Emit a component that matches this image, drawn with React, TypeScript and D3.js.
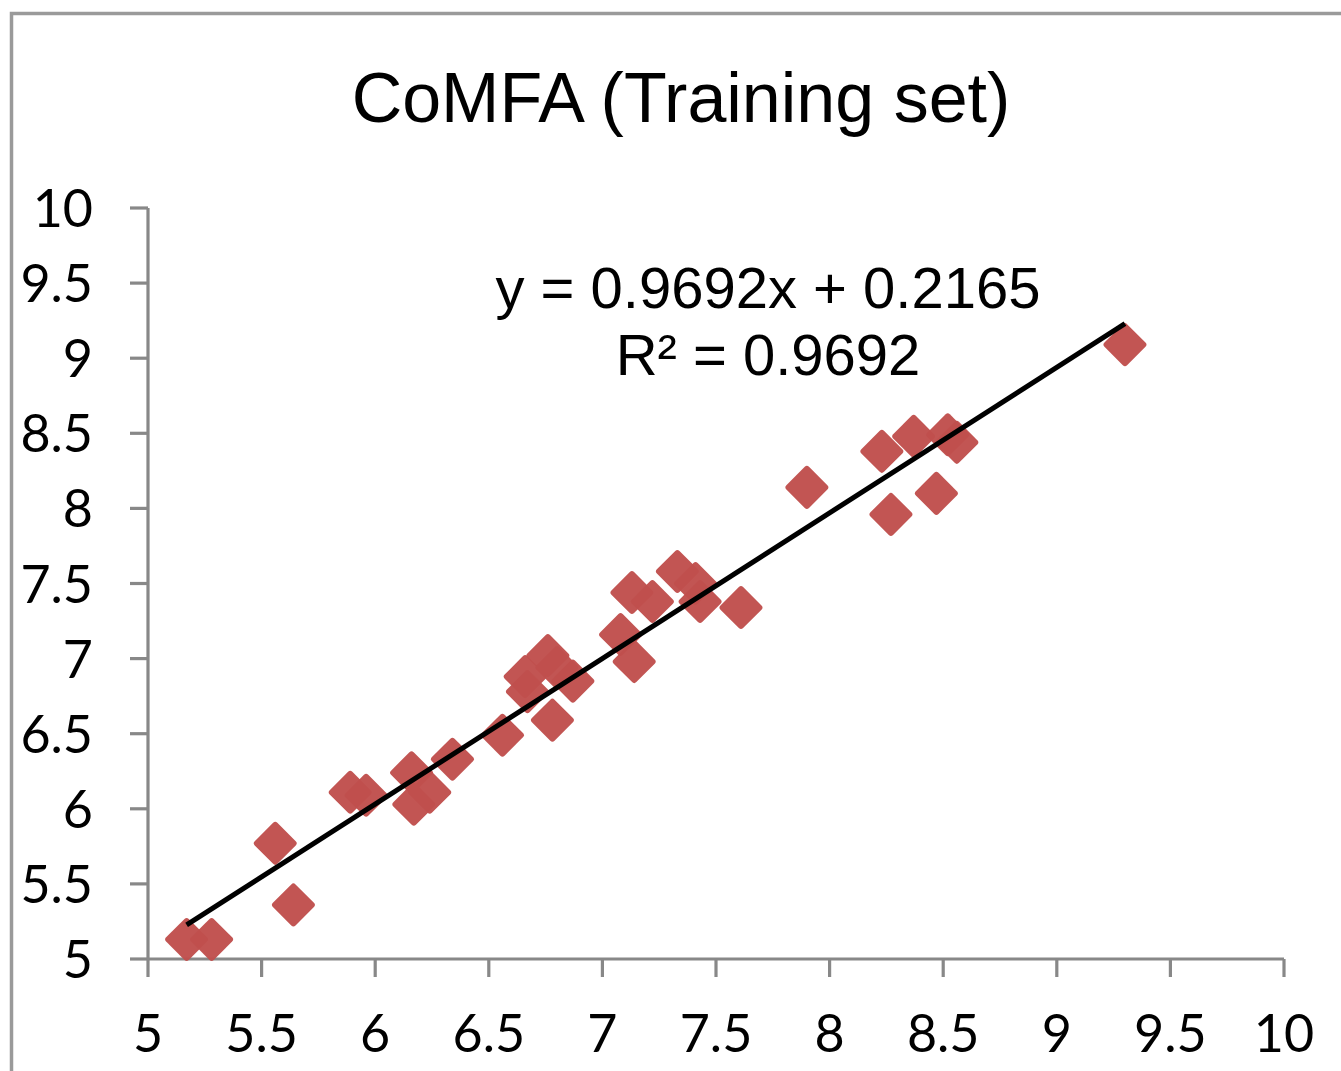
import React from "react";
import * as d3 from "d3";

const xValues = [5.17, 5.28, 5.56, 5.64, 5.89, 5.96, 6.16, 6.17, 6.24, 6.34, 6.56, 6.66, 6.67, 6.76, 6.80, 6.87, 6.78, 7.08, 7.14, 7.13, 7.22, 7.33, 7.41, 7.43, 7.61, 7.90, 8.23, 8.37, 8.52, 8.56, 8.27, 8.47, 9.30];
const yValues = [5.13, 5.13, 5.77, 5.36, 6.11, 6.09, 6.24, 6.03, 6.11, 6.33, 6.49, 6.88, 6.78, 7.02, 6.94, 6.85, 6.59, 7.16, 6.98, 7.44, 7.38, 7.58, 7.50, 7.38, 7.34, 8.14, 8.38, 8.48, 8.49, 8.44, 7.96, 8.10, 9.09];
const ticks = [5, 5.5, 6, 6.5, 7, 7.5, 8, 8.5, 9, 9.5, 10];
const slope = 0.9692;
const intercept = 0.2165;
const title = "CoMFA (Training set)";
const eqLine1 = "y = 0.9692x + 0.2165";
const eqLine2 = "R² = 0.9692";

export default function App() {
  const W = 1341, H = 1071;
  const x = d3.scaleLinear().domain([5, 10]).range([148, 1284]);
  const y = d3.scaleLinear().domain([5, 10]).range([959, 208]);
  const axisColor = "#888888";
  const red = "#C0504D";
  const xMin = d3.min(xValues) as number;
  const xMax = d3.max(xValues) as number;
  const line = d3.line<number>().x(v => x(v)).y(v => y(slope * v + intercept));
  const side = 32;
  const tickFont = "Lato, 'Open Sans', sans-serif";
  return (
    <svg width={W} height={H} style={{ position: "absolute", left: 0, top: 0, background: "#fff" }}>
      <rect x={0} y={0} width={W} height={H} fill="#fff" />
      <path d={`M11.5,${H + 5} L11.5,13.5 L${W + 5},13.5`} fill="none" stroke="#9a9a9a" strokeWidth={3.5} />
      <text x={681} y={122} textAnchor="middle" fontFamily="'Liberation Sans', Arial, sans-serif" fontSize={70} fill="#000">{title}</text>
      {/* y axis */}
      <line x1={x(5)} x2={x(5)} y1={y(10)} y2={y(5)} stroke={axisColor} strokeWidth={3.2} />
      {ticks.map(t => (
        <g key={"yt" + t}>
          <line x1={x(5) - 18} x2={x(5)} y1={y(t)} y2={y(t)} stroke={axisColor} strokeWidth={3.2} />
          <text x={93} y={y(t) + 19} textAnchor="end" fontFamily={tickFont} fontSize={52} fill="#000">{String(t)}</text>
        </g>
      ))}
      {/* x axis */}
      <line x1={x(5)} x2={x(10)} y1={y(5)} y2={y(5)} stroke={axisColor} strokeWidth={3.2} />
      {ticks.map(t => (
        <g key={"xt" + t}>
          <line x1={x(t)} x2={x(t)} y1={y(5)} y2={y(5) + 18} stroke={axisColor} strokeWidth={3.2} />
          <text x={x(t)} y={1052} textAnchor="middle" fontFamily={tickFont} fontSize={52} fill="#000">{String(t)}</text>
        </g>
      ))}
      {/* points */}
      {xValues.map((v, i) => (
        <rect key={"p" + i} x={-side / 2} y={-side / 2} width={side} height={side} rx={3} ry={3}
          fill={red} fillOpacity={0.97}
          transform={`translate(${x(v)},${y(yValues[i])}) rotate(45)`} />
      ))}
      {/* trendline */}
      <path d={line([xMin, xMax]) || ""} fill="none" stroke="#000" strokeWidth={5} />
      <text x={768} y={308} textAnchor="middle" fontFamily="'Liberation Sans', Arial, sans-serif" fontSize={58} fill="#000">{eqLine1}</text>
      <text x={768} y={375} textAnchor="middle" fontFamily="'Liberation Sans', Arial, sans-serif" fontSize={58} fill="#000">{eqLine2}</text>
    </svg>
  );
}
